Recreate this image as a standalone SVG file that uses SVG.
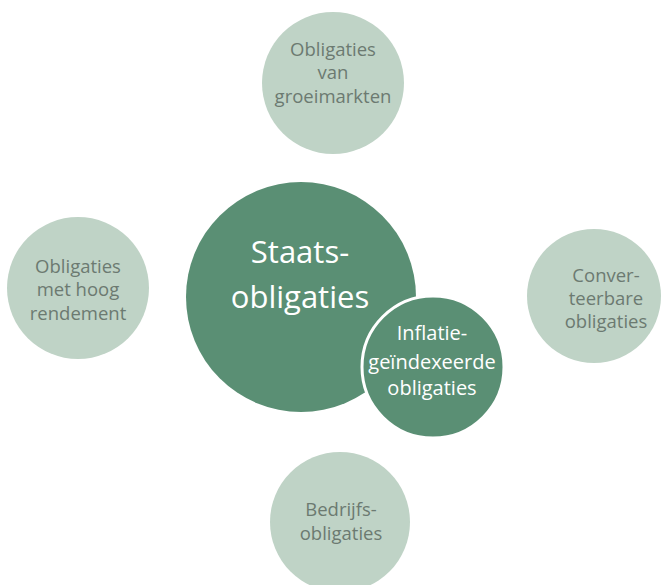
<svg xmlns="http://www.w3.org/2000/svg" width="662" height="585" viewBox="0 0 662 585">
<style>
.light{fill:#bfd3c6}
.dark{fill:#5a8f74}
.lt{font-family:"Open Sans","Noto Sans",sans-serif;font-size:18.5px;fill:#6c7a71;text-anchor:middle}
.dt{font-family:"Open Sans","Noto Sans",sans-serif;fill:#ffffff;text-anchor:middle}
</style>
<rect width="662" height="585" fill="#ffffff"/>
<g id="connectors"></g>
<g id="top">
<circle class="light" cx="333" cy="83" r="71"/>
<text class="lt" x="333" y="56">Obligaties</text>
<text class="lt" x="333" y="79">van</text>
<text class="lt" x="333" y="103">groeimarkten</text>
</g>
<g id="left">
<circle class="light" cx="78" cy="288" r="71"/>
<text class="lt" x="78" y="273">Obligaties</text>
<text class="lt" x="78" y="296">met hoog</text>
<text class="lt" x="78" y="320">rendement</text>
</g>
<g id="right">
<circle class="light" cx="594" cy="296" r="67"/>
<text class="lt" x="606" y="282">Conver-</text>
<text class="lt" x="606" y="305">teerbare</text>
<text class="lt" x="606" y="328">obligaties</text>
</g>
<g id="bottom">
<circle class="light" cx="340" cy="522" r="70"/>
<text class="lt" x="341" y="516">Bedrijfs-</text>
<text class="lt" x="341" y="540">obligaties</text>
</g>
<g id="center">
<circle class="dark" cx="301" cy="297" r="115"/>
<text class="dt" x="300" y="263" font-size="31">Staats-</text>
<text class="dt" x="300" y="308" font-size="31">obligaties</text>
</g>
<g id="inflation">
<circle class="dark" cx="433" cy="367" r="71" stroke="#ffffff" stroke-width="3"/>
<text class="dt" x="432" y="340" font-size="20">Inflatie-</text>
<text class="dt" x="432" y="369" font-size="20">geïndexeerde</text>
<text class="dt" x="432" y="395" font-size="20">obligaties</text>
</g>
</svg>
